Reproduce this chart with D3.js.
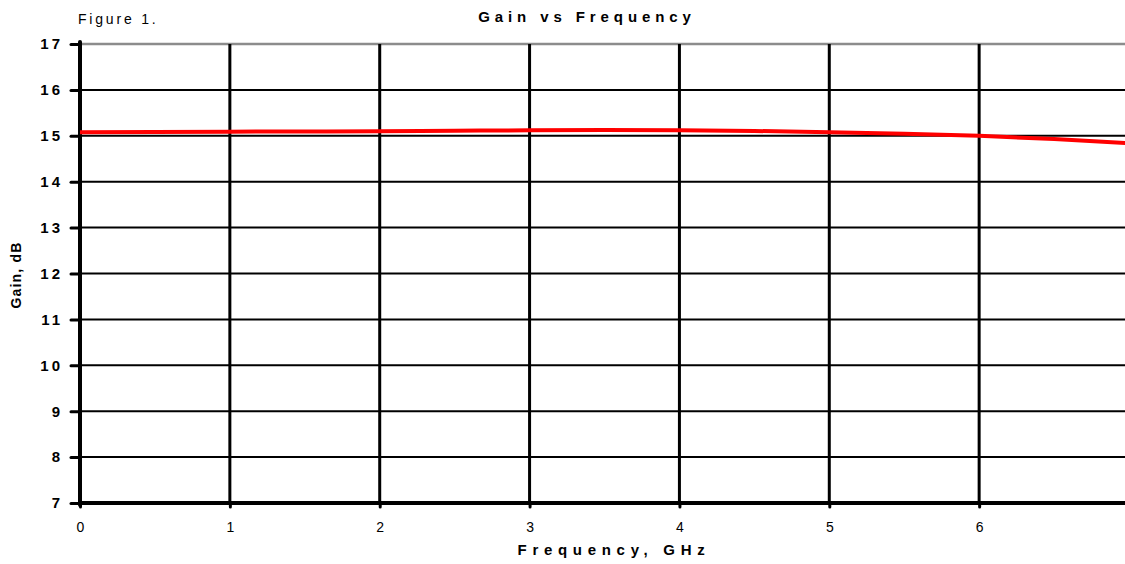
<!DOCTYPE html>
<html>
<head>
<meta charset="utf-8">
<script src="https://cdn.jsdelivr.net/npm/d3@7"></script>
<style>
  body { margin: 0; background: #fff; }
  svg { display: block; font-family: "Liberation Sans", Arial, sans-serif; }
</style>
</head>
<body>
<div id="chart"></div>
<script>
// data
var freq = [0, 0.5, 1, 1.5, 2, 2.5, 3, 3.5, 4, 4.5, 5, 5.5, 6, 6.5, 7];
var gain = [15.08, 15.085, 15.09, 15.095, 15.1, 15.11, 15.12, 15.125, 15.12, 15.105, 15.08, 15.045, 15.0, 14.93, 14.84];
var xTicks = [0, 1, 2, 3, 4, 5, 6, 7];
var yTicks = [7, 8, 9, 10, 11, 12, 13, 14, 15, 16, 17];

var width = 1125, height = 564;
var plotLeft = 80, plotRight = 1129, plotTop = 44, plotBottom = 503;
var font = "'Liberation Sans', Arial, sans-serif";

var svg = d3.select("#chart").append("svg")
  .attr("width", width)
  .attr("height", height);

var x = d3.scaleLinear().domain([0, 7]).range([plotLeft, plotRight]);
var y = d3.scaleLinear().domain([7, 17]).range([plotBottom, plotTop]);

// horizontal grid
svg.append("g").selectAll("line")
  .data(yTicks.filter(function(d){ return d > 7; })).enter().append("line")
    .attr("x1", plotLeft).attr("x2", plotRight)
    .attr("y1", function(d){ return y(d); })
    .attr("y2", function(d){ return y(d); })
    .attr("stroke", function(d){ return d === 17 ? "#8c8c8c" : "#000"; })
    .attr("stroke-width", function(d){ return d === 17 ? 2.5 : 2; });

// vertical grid
svg.append("g").selectAll("line")
  .data(xTicks.filter(function(d){ return d > 0; })).enter().append("line")
    .attr("x1", function(d){ return x(d); })
    .attr("x2", function(d){ return x(d); })
    .attr("y1", plotTop).attr("y2", plotBottom)
    .attr("stroke", "#000")
    .attr("stroke-width", 3);

// y axis
var yAxis = svg.append("g")
  .attr("transform", "translate(" + plotLeft + ",0)")
  .call(d3.axisLeft(y).tickValues(yTicks).tickFormat(d3.format("d")).tickSize(9).tickPadding(8));
yAxis.attr("font-family", font).attr("font-size", 15);
yAxis.select(".domain").remove();
yAxis.selectAll(".tick line").attr("stroke-width", 3).attr("stroke-linecap", "round");
yAxis.selectAll(".tick text")
  .attr("font-weight", "bold").attr("fill", "#000")
  .attr("letter-spacing", 3);

// x axis
var xAxis = svg.append("g")
  .attr("transform", "translate(0," + plotBottom + ")")
  .call(d3.axisBottom(x).tickValues(xTicks).tickFormat(d3.format("d")).tickSize(4).tickPadding(0));
xAxis.attr("font-family", font).attr("font-size", 14);
xAxis.select(".domain").remove();
xAxis.selectAll(".tick line").attr("stroke-width", 3).attr("stroke-linecap", "round");
xAxis.selectAll(".tick text")
  .attr("fill", "#000").attr("dy", null).attr("y", 29);

// axis lines
svg.append("line")
  .attr("x1", plotLeft).attr("x2", plotLeft).attr("y1", plotTop - 2).attr("y2", plotBottom + 2)
  .attr("stroke", "#000").attr("stroke-width", 4).attr("stroke-linecap", "round");
svg.append("line")
  .attr("x1", plotLeft).attr("x2", plotRight).attr("y1", plotBottom).attr("y2", plotBottom)
  .attr("stroke", "#000").attr("stroke-width", 4);

// gain curve
var line = d3.line()
  .x(function(d, i){ return x(freq[i]); })
  .y(function(d){ return y(d); })
  .curve(d3.curveMonotoneX);
svg.append("path")
  .datum(gain)
  .attr("d", line)
  .attr("fill", "none")
  .attr("stroke", "#ff0000")
  .attr("stroke-width", 4);

// texts
svg.append("text")
  .attr("x", 78).attr("y", 24)
  .attr("font-size", 14).attr("letter-spacing", 2.8)
  .text("Figure 1.");

svg.append("text")
  .attr("x", 587).attr("y", 22)
  .attr("text-anchor", "middle")
  .attr("font-size", 15).attr("font-weight", "bold").attr("letter-spacing", 4.9)
  .text("Gain vs Frequency");

svg.append("text")
  .attr("x", 614).attr("y", 555)
  .attr("text-anchor", "middle")
  .attr("font-size", 15).attr("font-weight", "bold").attr("letter-spacing", 5.7)
  .text("Frequency, GHz");

svg.append("text")
  .attr("transform", "translate(21,275) rotate(-90)")
  .attr("text-anchor", "middle")
  .attr("font-size", 14).attr("font-weight", "bold").attr("letter-spacing", 1.2)
  .text("Gain, dB");
</script>
</body>
</html>
